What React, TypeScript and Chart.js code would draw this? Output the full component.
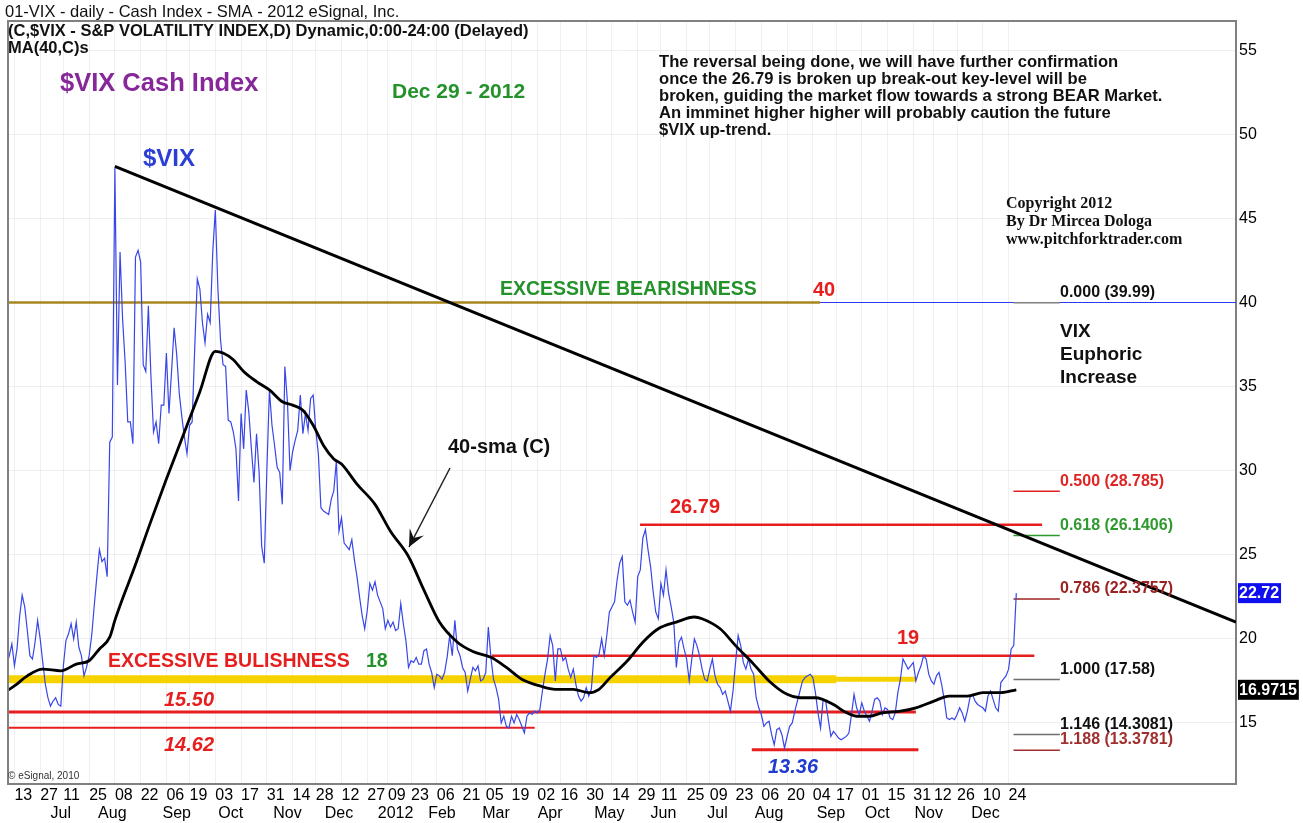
import React, { useEffect, useRef } from "react";
import { Chart, registerables } from "chart.js";

Chart.register(...registerables);

// x axis unit = trading day; day 0 = Mon 13 Jun 2011
const FIRST_DAY = -3;
const X_MIN = -2.5;
const X_MAX = 474.3;
const Y_MIN = 11.37;
const Y_MAX = 56.74;

// $VIX daily close, from 8 Jun 2011 to 28 Dec 2012 (one value per trading day)
const vixClose: number[] = [
  18.4, 19.0, 19.7,
  18.4, 19.4, 21.3, 22.6, 21.9, 20.5, 19.0, 18.8, 19.8, 21.1,
  20.0, 18.6, 17.3, 16.5, 16.0, 16.3, 16.5, 16.1, 16.0, 18.4,
  19.9, 20.3, 20.9, 20.0, 21.0, 19.5, 19.0, 17.8, 18.3, 19.0,
  20.2, 22.0, 23.7, 25.3, 24.6, 24.8, 23.7, 31.7, 32.0, 48.0,
  35.1, 43.0, 39.0, 36.4, 32.9, 32.9, 31.6, 42.7, 43.1, 42.4,
  36.3, 35.9, 39.8, 35.6, 32.3, 32.9, 31.6, 33.9, 33.9, 37.0,
  33.4, 35.9, 38.5, 36.9, 34.6, 33.2, 32.0, 31.0, 32.7, 32.9,
  37.3, 41.4, 40.8, 38.8, 37.6, 39.3, 38.8, 43.0, 45.5, 40.8,
  37.8, 36.3, 36.2, 33.0, 32.9, 32.3, 31.3, 28.2, 33.4, 31.3,
  34.8, 33.5, 31.3, 29.3, 32.2, 29.9, 25.5, 24.5, 30.0, 34.8,
  32.7, 31.5, 30.2, 29.9, 28.0, 36.2, 34.1, 30.0, 31.1, 31.8,
  32.4, 34.5, 32.2, 33.4, 32.4, 34.3, 34.5, 32.4, 31.0, 27.8,
  27.6, 27.5, 27.4, 28.3, 28.8, 30.6, 26.4, 27.2, 25.7, 25.5,
  25.3, 25.9, 24.7, 23.7, 22.5, 21.4, 20.6, 21.7, 23.3, 22.9,
  23.4, 22.6, 22.2, 21.8, 20.6, 21.1, 20.7, 21.0, 20.5, 20.6,
  22.1, 20.9, 19.9, 18.3, 18.7, 18.6, 18.9, 18.5, 18.5, 19.3,
  19.4, 18.5, 18.0, 17.1, 17.9, 17.8, 17.6, 18.0, 18.9, 20.2,
  19.0, 21.1, 19.4, 19.0, 18.3, 18.0, 16.9, 17.6, 18.3, 18.1,
  18.4, 17.5, 17.6, 18.0, 20.7, 18.9, 17.6, 17.1, 16.4, 15.0,
  15.4, 14.8, 14.7, 15.4, 15.0, 15.5, 15.2, 14.8, 14.4, 15.4,
  15.6, 15.5, 15.7, 15.6, 15.8, 16.9, 17.9, 18.8, 20.2, 19.6,
  17.5, 19.4, 19.4, 18.7, 18.9, 18.2, 17.7, 18.2, 17.3, 16.6,
  16.3, 16.5, 17.1, 16.6, 17.0, 19.0, 18.9, 19.1, 20.0, 19.0,
  20.2, 21.6, 21.9, 22.2, 23.5, 24.5, 24.9, 22.2, 22.0, 22.3,
  21.6, 21.0, 23.7, 24.1, 26.0, 26.5, 25.3, 24.3, 22.8, 21.6,
  21.2, 23.3, 22.6, 24.1, 22.7, 21.9, 21.0, 18.3, 19.8, 20.1,
  19.4, 18.8, 17.5, 18.8, 20.0, 19.6, 19.0, 18.2, 17.6, 17.5,
  18.2, 18.8, 17.8, 17.3, 17.1, 16.7, 16.9, 16.3, 15.7, 16.9,
  18.6, 20.2, 19.6, 18.6, 18.2, 18.8, 18.2, 17.9, 16.5, 15.9,
  15.5, 14.8, 15.0, 15.1, 14.3, 13.7, 14.6, 14.7, 14.3, 13.5,
  14.2, 14.8, 15.0, 15.7, 16.3, 16.9, 17.5, 17.7, 17.8, 17.9,
  17.7, 16.8, 15.6, 14.7, 16.4, 16.3, 15.2, 14.2, 14.5, 14.3,
  14.1, 14.0, 14.1, 14.2, 14.4, 15.5, 16.7, 15.9, 15.5, 16.2,
  15.7, 15.4, 15.1, 15.7, 16.4, 16.5, 16.3, 15.5, 15.9, 15.8,
  15.3, 15.2, 15.6, 16.8, 17.6, 18.8, 18.5, 18.2, 18.4, 18.6,
  17.5, 18.0, 18.4, 19.0, 18.8, 17.9, 17.5, 17.3, 17.8, 18.0,
  17.3, 16.4, 15.3, 15.2, 15.3, 15.2, 15.5, 15.9, 15.6, 15.1,
  15.7, 16.5, 16.7, 16.3, 16.1, 16.0, 15.9, 15.7, 16.6, 16.9,
  16.4, 15.9, 15.7, 17.4, 17.6, 17.8, 18.2, 19.4, 19.6, 22.72,
];

// 40-day simple moving average
const smaDays: number[] = [
  -3, 0, 5, 11, 18, 24, 29, 33, 37, 39, 42, 46, 53, 59, 65, 72, 78, 81, 85, 89,
  94, 99, 104, 108, 112, 116, 120, 124, 127, 133, 140, 146, 153, 159, 165, 172,
  178, 185, 191, 197, 204, 210, 217, 223, 227, 231, 238, 244, 250, 257, 264, 267,
  274, 280, 287, 293, 300, 305, 311, 318, 322, 327, 332, 337, 344, 350, 357, 363,
  370, 376, 383, 389,
];
const smaValues: number[] = [
  16.9, 17.2, 17.8, 18.2, 18.1, 18.5, 18.7, 19.4, 20.1, 21.1, 22.4, 24.0, 27.0, 29.5, 31.9, 34.7, 37.1, 37.0, 36.6, 35.9,
  35.3, 34.8, 34.1, 33.9, 33.6, 32.7, 31.5, 30.7, 30.4, 29.2, 28.0, 26.4, 24.9, 22.9, 21.0, 19.8,
  19.25, 18.9, 18.3, 17.6, 17.2, 17.0, 17.0, 16.8, 17.0, 17.65, 18.7, 19.8, 20.6, 21.0, 21.3, 21.2,
  20.6, 19.6, 18.5, 17.5, 16.7, 16.5, 16.5, 16.1, 15.7, 15.4, 15.4, 15.6, 15.7, 15.9, 16.3, 16.6,
  16.6, 16.8, 16.8, 16.9715,
];

// Bottom axis: day-of-month ticks and month names
const dayTickIdx: number[] = [
  0, 10, 19, 29, 39, 49, 59, 68, 78, 88, 98, 108, 117, 127, 137, 145, 154, 164, 174, 183,
  193, 203, 212, 222, 232, 242, 251, 261, 270, 280, 290, 300, 310, 319, 329, 339, 349, 357, 366, 376, 386,
];
const dayTickLabels: string[] = [
  "13", "27", "11", "25", "08", "22", "06", "19", "03", "17", "31", "14", "28", "12", "27", "09", "23", "06", "21", "05",
  "19", "02", "16", "30", "14", "29", "11", "25", "09", "23", "06", "20", "04", "17", "01", "15", "31", "12", "26", "10", "24",
];
const monthTickIdx: number[] = [18, 38, 63, 84, 106, 126, 148, 166, 187, 208, 231, 252, 273, 293, 317, 335, 355, 377];
const monthLabels: string[] = [
  "Jul", "Aug", "Sep", "Oct", "Nov", "Dec", "2012", "Feb", "Mar", "Apr", "May", "Jun", "Jul", "Aug", "Sep", "Oct", "Nov", "Dec",
];
const yTicks: number[] = [15, 20, 25, 30, 35, 40, 45, 50, 55];

// Horizontal key levels (value, first day, last day)
const levelValues: number[] = [40, 40, 26.79, 19, 17.6, 17.6, 15.65, 14.72, 13.4];
const levelStartDay: number[] = [-2.5, 312.8, 242.9, 185.3, -2.5, 319, -2.5, -2.5, 286.3];
const levelEndDay: number[] = [312.8, 474.3, 399, 396, 319, 350, 350, 202, 351];

// Fibonacci extension levels
const fibRatios: string[] = ["0.000", "0.500", "0.618", "0.786", "1.000", "1.146", "1.188"];
const fibLevels: number[] = [39.99, 28.785, 26.1406, 22.3757, 17.58, 14.3081, 13.3781];
const fibStartDay = 387.9;
const fibEndDay = 405.9;

// Down trend line
const trendDays: number[] = [39, 474.3];
const trendValues: number[] = [48.1, 21.0];

const FONT = '"Liberation Sans", Arial, sans-serif';
const SERIF = '"Liberation Serif", "Times New Roman", serif';
const RED = "#e61e1e";
const GREEN = "#23922a";

const levelStyles = [
  { color: "#a8861c", width: 2.5 },
  { color: "#2b3cf0", width: 1.2 },
  { color: RED, width: 2.5 },
  { color: RED, width: 2.5 },
  { color: "#f6d300", width: 8 },
  { color: "#f6d300", width: 5 },
  { color: RED, width: 3 },
  { color: RED, width: 2 },
  { color: RED, width: 3 },
];
const fibColors = ["#808080", "#e02424", "#2f9a2f", "#9c2222", "#6e6e6e", "#6e6e6e", "#a03030"];

function txt(ctx: CanvasRenderingContext2D, s: string, x: number, y: number, font: string, color: string) {
  ctx.font = font;
  ctx.fillStyle = color;
  ctx.textAlign = "left";
  ctx.textBaseline = "middle";
  ctx.fillText(s, x, y);
}

const overlayPlugin = {
  id: "overlay",
  afterDraw(chart: any) {
    const ctx: CanvasRenderingContext2D = chart.ctx;
    const { left, right, top, bottom } = chart.chartArea;
    ctx.save();
    // frame
    ctx.strokeStyle = "#808080";
    ctx.lineWidth = 2;
    ctx.beginPath();
    ctx.moveTo(left, bottom);
    ctx.lineTo(left, top);
    ctx.lineTo(right, top);
    ctx.stroke();

    // header
    txt(ctx, "01-VIX - daily - Cash Index - SMA - 2012 eSignal, Inc.", 5, 12, `16.5px ${FONT}`, "#111");
    txt(ctx, "(C,$VIX - S&P VOLATILITY INDEX,D) Dynamic,0:00-24:00 (Delayed)", 8, 31, `bold 16.5px ${FONT}`, "#111");
    txt(ctx, "MA(40,C)s", 8, 48, `bold 16.5px ${FONT}`, "#111");

    txt(ctx, "$VIX Cash Index", 60, 84, `bold 25.5px ${FONT}`, "#86279a");
    txt(ctx, "Dec 29 - 2012", 392, 92, `bold 21px ${FONT}`, GREEN);

    const para = [
      "The reversal being done, we will have further confirmation",
      "once the 26.79 is broken up break-out key-level will be",
      "broken, guiding the market flow towards a strong BEAR Market.",
      "An imminet higher higher will probably caution the future",
      "$VIX up-trend.",
    ];
    para.forEach((l, i) => txt(ctx, l, 659, 62 + i * 17, `bold 16.6px ${FONT}`, "#111"));

    txt(ctx, "$VIX", 143, 159, `bold 24px ${FONT}`, "#2b3fd6");

    ["Copyright 2012", "By Dr Mircea Dologa", "www.pitchforktrader.com"].forEach((l, i) =>
      txt(ctx, l, 1006, 204 + i * 18, `bold 16px ${SERIF}`, "#111")
    );

    txt(ctx, "EXCESSIVE BEARISHNESS", 500, 290, `bold 19.5px ${FONT}`, GREEN);
    txt(ctx, "40", 813, 290, `bold 20px ${FONT}`, RED);

    ["VIX", "Euphoric", "Increase"].forEach((l, i) => txt(ctx, l, 1060, 332 + i * 23, `bold 19px ${FONT}`, "#111"));

    txt(ctx, "40-sma (C)", 448, 447, `bold 20px ${FONT}`, "#111");
    // arrow
    const ax0 = 450, ay0 = 468, ax1 = 409, ay1 = 547;
    ctx.strokeStyle = "#222";
    ctx.lineWidth = 1.5;
    ctx.beginPath();
    ctx.moveTo(ax0, ay0);
    ctx.lineTo(ax1, ay1);
    ctx.stroke();
    const dx = ax1 - ax0, dy = ay1 - ay0, len = Math.hypot(dx, dy);
    const ux = dx / len, uy = dy / len;
    const hl = 17, hw = 8;
    ctx.fillStyle = "#111";
    ctx.beginPath();
    ctx.moveTo(ax1, ay1);
    ctx.lineTo(ax1 - ux * hl - uy * hw, ay1 - uy * hl + ux * hw);
    ctx.lineTo(ax1 - ux * hl * 0.6, ay1 - uy * hl * 0.6);
    ctx.lineTo(ax1 - ux * hl + uy * hw, ay1 - uy * hl - ux * hw);
    ctx.closePath();
    ctx.fill();

    txt(ctx, "26.79", 670, 507, `bold 20px ${FONT}`, RED);
    txt(ctx, "19", 897, 638, `bold 20px ${FONT}`, RED);
    txt(ctx, "EXCESSIVE BULISHNESS", 108, 662, `bold 19.5px ${FONT}`, RED);
    txt(ctx, "18", 366, 662, `bold 19.5px ${FONT}`, GREEN);
    txt(ctx, "15.50", 164, 700, `italic bold 20px ${FONT}`, RED);
    txt(ctx, "14.62", 164, 745, `italic bold 20px ${FONT}`, RED);
    txt(ctx, "13.36", 768, 767, `italic bold 20px ${FONT}`, "#1f3bd0");
    txt(ctx, "\u00a9 eSignal, 2010", 8, 776, `10px ${FONT}`, "#333");

    // fib labels
    const fibLabelY = [293, 482, 526, 589, 670, 725, 740];
    fibRatios.forEach((r, i) => {
      const c = i === 0 || i === 4 || i === 5 ? "#111" : fibColors[i];
      txt(ctx, `${r} (${fibLevels[i]})`, 1060, fibLabelY[i], `bold 16px ${FONT}`, c);
    });

    // last value boxes on the price axis
    const yS = chart.scales.y;
    const boxes = [
      { v: vixClose[vixClose.length - 1], s: vixClose[vixClose.length - 1].toFixed(2), bg: "#1010ee" },
      { v: smaValues[smaValues.length - 1], s: smaValues[smaValues.length - 1].toFixed(4), bg: "#000" },
    ];
    boxes.forEach((b) => {
      const y = yS.getPixelForValue(b.v);
      ctx.font = `bold 16px ${FONT}`;
      const w = ctx.measureText(b.s).width;
      ctx.fillStyle = b.bg;
      ctx.fillRect(right + 2, y - 10, w + 3, 20);
      txt(ctx, b.s, right + 3, y + 0.5, `bold 16px ${FONT}`, "#fff");
    });
    ctx.restore();
  },
};

export default function App() {
  const ref = useRef<HTMLCanvasElement | null>(null);

  useEffect(() => {
    if (!ref.current) return;
    const datasets: any[] = [];
    datasets.push({
      label: "trend",
      data: trendDays.map((d, i) => ({ x: d, y: trendValues[i] })),
      borderColor: "#000",
      borderWidth: 3,
      pointRadius: 0,
      order: 1,
    });
    datasets.push({
      label: "sma",
      data: smaDays.map((d, i) => ({ x: d, y: smaValues[i] })),
      borderColor: "#000",
      borderWidth: 2.8,
      cubicInterpolationMode: "monotone",
      pointRadius: 0,
      order: 2,
    });
    datasets.push({
      label: "vix",
      data: vixClose.map((v, i) => ({ x: FIRST_DAY + i, y: v })),
      borderColor: "#3846e8",
      borderWidth: 1.2,
      pointRadius: 0,
      order: 3,
    });
    fibLevels.forEach((v, i) => {
      datasets.push({
        label: "fib" + fibRatios[i],
        data: [
          { x: fibStartDay, y: v },
          { x: fibEndDay, y: v },
        ],
        borderColor: fibColors[i],
        borderWidth: 1.5,
        pointRadius: 0,
        order: 4,
      });
    });
    levelValues.forEach((v, i) => {
      datasets.push({
        label: "level" + i,
        data: [
          { x: levelStartDay[i], y: v },
          { x: levelEndDay[i], y: v },
        ],
        borderColor: levelStyles[i].color,
        borderWidth: levelStyles[i].width,
        pointRadius: 0,
        order: i === 4 || i === 5 ? 20 : 10 + i,
      });
    });

    const chart = new Chart(ref.current, {
      type: "line",
      data: { datasets },
      plugins: [overlayPlugin],
      options: {
        responsive: false,
        animation: false,
        devicePixelRatio: 1,
        events: [],
        layout: { padding: { left: 8, top: 21, right: 0, bottom: 0 } },
        plugins: { legend: { display: false }, tooltip: { enabled: false }, title: { display: false } },
        scales: {
          x: {
            type: "linear",
            position: "bottom",
            min: X_MIN,
            max: X_MAX,
            afterBuildTicks: (s: any) => {
              s.ticks = dayTickIdx.map((v) => ({ value: v }));
            },
            afterFit: (s: any) => {
              s.height = 20;
            },
            ticks: {
              autoSkip: false,
              maxRotation: 0,
              minRotation: 0,
              align: "start",
              padding: 2,
              color: "#000",
              font: { family: FONT, size: 16 },
              callback: (_v: any, i: number) => dayTickLabels[i] ?? "",
            },
            grid: { color: "rgba(0,0,0,0.06)", drawTicks: false },
            border: { display: true, color: "#808080", width: 2 },
          },
          x2: {
            type: "linear",
            position: "bottom",
            min: X_MIN,
            max: X_MAX,
            afterBuildTicks: (s: any) => {
              s.ticks = monthTickIdx.map((v) => ({ value: v }));
            },
            afterFit: (s: any) => {
              s.height = 19;
            },
            ticks: {
              autoSkip: false,
              maxRotation: 0,
              minRotation: 0,
              padding: 0,
              color: "#000",
              font: { family: FONT, size: 16 },
              callback: (_v: any, i: number) => monthLabels[i] ?? "",
            },
            grid: { display: false, drawTicks: false },
            border: { display: false },
          },
          y: {
            type: "linear",
            position: "right",
            min: Y_MIN,
            max: Y_MAX,
            afterBuildTicks: (s: any) => {
              s.ticks = yTicks.map((v) => ({ value: v }));
            },
            afterFit: (s: any) => {
              s.width = 67;
            },
            ticks: {
              padding: 3,
              color: "#000",
              font: { family: FONT, size: 16 },
              callback: (v: any) => String(v),
            },
            grid: { color: "rgba(0,0,0,0.06)", drawTicks: false },
            border: { display: true, color: "#808080", width: 2 },
          },
        },
      } as any,
    });
    return () => chart.destroy();
  }, []);

  return (
    <div style={{ position: "fixed", left: 0, top: 0, width: 1303, height: 823, background: "#fff" }}>
      <canvas ref={ref} width={1303} height={823} style={{ display: "block", width: 1303, height: 823 }} />
    </div>
  );
}
